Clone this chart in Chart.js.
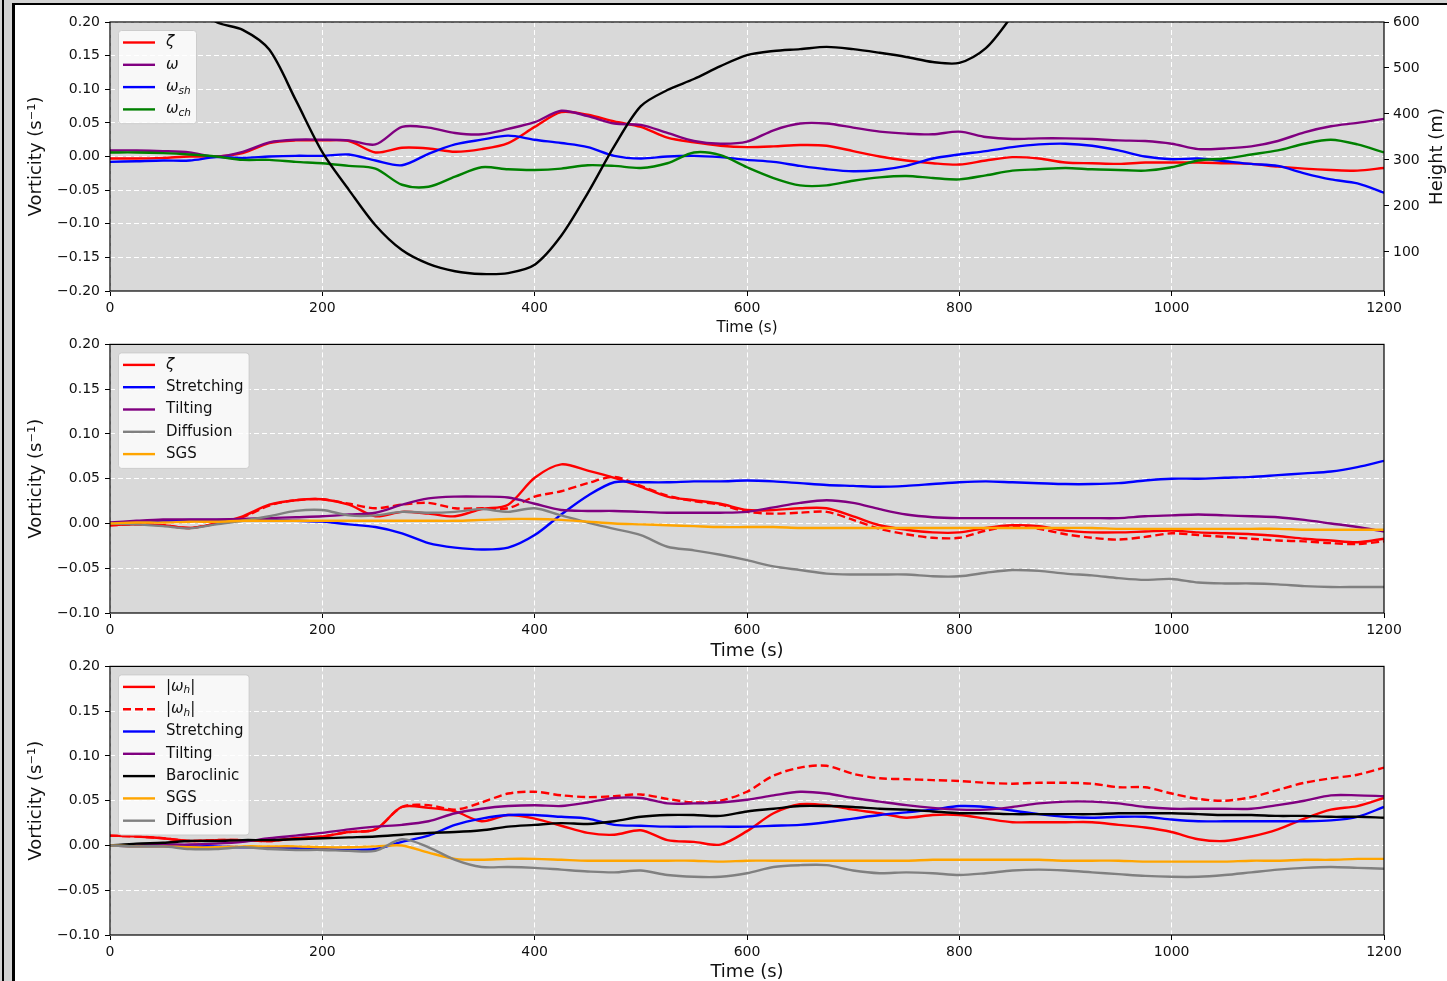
<!DOCTYPE html>
<html>
<head>
<meta charset="utf-8">
<script src="https://cdn.jsdelivr.net/npm/chart.js@4.4.0/dist/chart.umd.min.js"></script>
<style>
  html, body { margin: 0; padding: 0; }
  body { width: 1447px; height: 981px; background: #d3d3d3; position: relative; overflow: hidden; }
  #bar { position: absolute; left: 2px; top: 0; width: 2px; height: 981px; background: #000; }
  #fig { position: absolute; left: 12px; top: 3px; width: 1440px; height: 990px; background: #fff; border-left: 3px solid #000; border-top: 2px solid #000; }
  canvas { position: absolute; left: 0; }
</style>
</head>
<body>
<div id="bar"></div>
<div id="fig"></div>
<canvas id="c1" width="1447" height="340" style="top:0px"></canvas>
<canvas id="c2" width="1447" height="333" style="top:331px"></canvas>
<canvas id="c3" width="1447" height="343" style="top:653px"></canvas>
<script>
// time axis (s)
const time = [0,25,50,75,100,125,150,175,200,225,250,275,300,325,350,375,400,425,450,475,500,525,550,575,600,
  625,650,675,700,725,750,775,800,825,850,875,900,925,950,975,1000,1025,1050,1075,1100,1125,1150,1175,1200];

// tick labels
const timeTicks = [0, 200, 400, 600, 800, 1000, 1200];
const vortTicksTop = [-0.2, -0.15, -0.1, -0.05, 0, 0.05, 0.1, 0.15, 0.2];
const vortTicksLow = [-0.1, -0.05, 0, 0.05, 0.1, 0.15, 0.2];
const heightTicks = [100, 200, 300, 400, 500, 600];

// panel 1
const zeta1 = [-0.003,-0.003,-0.002,0.000,0.000,0.005,0.020,0.024,0.024,0.023,0.006,0.013,0.012,0.007,0.011,0.020,0.044,0.066,0.062,0.052,0.044,0.028,0.021,0.016,0.014,
  0.015,0.017,0.016,0.008,0.000,-0.006,-0.010,-0.012,-0.006,-0.001,-0.003,-0.009,-0.010,-0.011,-0.009,-0.009,-0.009,-0.010,-0.011,-0.015,-0.018,-0.020,-0.021,-0.017];
const omega1 = [0.009,0.009,0.008,0.006,0.000,0.007,0.021,0.025,0.025,0.024,0.018,0.044,0.043,0.035,0.033,0.041,0.051,0.068,0.060,0.049,0.047,0.035,0.023,0.019,0.022,
  0.039,0.049,0.049,0.043,0.037,0.034,0.033,0.037,0.029,0.026,0.027,0.027,0.026,0.024,0.023,0.019,0.011,0.012,0.015,0.023,0.036,0.045,0.050,0.056];
const omegaSh1 = [-0.008,-0.007,-0.006,-0.006,-0.001,-0.002,0.000,0.001,0.001,0.003,-0.006,-0.013,0.004,0.018,0.025,0.031,0.025,0.020,0.014,0.001,-0.003,0.000,0.001,-0.001,-0.005,
  -0.008,-0.014,-0.019,-0.022,-0.020,-0.014,-0.003,0.003,0.008,0.014,0.018,0.019,0.016,0.009,0.000,-0.004,-0.003,-0.007,-0.011,-0.014,-0.025,-0.034,-0.040,-0.054];
const omegaCh1 = [0.006,0.006,0.005,0.003,0.000,-0.005,-0.005,-0.008,-0.010,-0.014,-0.018,-0.042,-0.045,-0.030,-0.016,-0.019,-0.020,-0.018,-0.013,-0.014,-0.017,-0.010,0.006,0.002,-0.016,
  -0.032,-0.043,-0.043,-0.036,-0.031,-0.029,-0.032,-0.034,-0.028,-0.021,-0.019,-0.017,-0.019,-0.020,-0.021,-0.016,-0.006,-0.003,0.003,0.009,0.019,0.025,0.018,0.006];
const height1 = [780,730,690,645,600,583,540,430,317,235,158,104,74,58,52,54,72,135,228,330,417,452,476,504,528,
  537,541,546,541,533,524,513,511,543,615,700,790,null,null,null,null,null,null,null,null,null,null,null,null];

// panel 2
const zeta2 = [-0.002,-0.001,-0.002,-0.005,0.000,0.008,0.021,0.026,0.027,0.021,0.008,0.013,0.011,0.008,0.016,0.021,0.051,0.066,0.059,0.051,0.041,0.030,0.026,0.022,0.015,
  0.015,0.017,0.017,0.008,-0.002,-0.007,-0.010,-0.010,-0.005,-0.002,-0.003,-0.008,-0.010,-0.010,-0.009,-0.008,-0.010,-0.011,-0.012,-0.014,-0.017,-0.019,-0.021,-0.017];
const zeta2b = [-0.002,-0.001,-0.002,-0.005,0.000,0.007,0.020,0.026,0.027,0.022,0.017,0.021,0.023,0.017,0.017,0.017,0.030,0.036,0.045,0.052,0.042,0.031,0.025,0.021,0.013,
  0.011,0.012,0.013,0.004,-0.006,-0.012,-0.016,-0.016,-0.008,-0.003,-0.006,-0.012,-0.016,-0.018,-0.015,-0.011,-0.013,-0.015,-0.017,-0.019,-0.020,-0.022,-0.023,-0.020];
const stretch2 = [0.000,0.002,0.003,0.004,0.004,0.004,0.004,0.003,0.002,-0.001,-0.004,-0.011,-0.022,-0.027,-0.029,-0.027,-0.013,0.010,0.031,0.046,0.046,0.046,0.047,0.047,0.048,
  0.047,0.045,0.043,0.042,0.041,0.042,0.044,0.046,0.047,0.046,0.045,0.044,0.044,0.045,0.048,0.050,0.050,0.051,0.052,0.054,0.056,0.058,0.063,0.070];
const tilt2 = [0.001,0.003,0.0045,0.0045,0.0045,0.005,0.006,0.007,0.008,0.010,0.012,0.021,0.028,0.030,0.030,0.029,0.022,0.015,0.014,0.014,0.013,0.012,0.012,0.012,0.013,
  0.018,0.023,0.026,0.023,0.016,0.010,0.007,0.006,0.006,0.006,0.006,0.006,0.006,0.006,0.008,0.009,0.010,0.009,0.008,0.007,0.004,0.000,-0.004,-0.009];
const diff2 = [0.000,-0.001,-0.003,-0.0055,-0.001,0.003,0.008,0.014,0.015,0.009,0.009,0.013,0.012,0.013,0.016,0.013,0.017,0.009,0.001,-0.006,-0.013,-0.026,-0.030,-0.035,-0.041,
  -0.048,-0.052,-0.056,-0.057,-0.057,-0.057,-0.059,-0.059,-0.055,-0.052,-0.053,-0.056,-0.058,-0.061,-0.063,-0.062,-0.066,-0.067,-0.067,-0.068,-0.070,-0.071,-0.071,-0.071];
const sgs2 = [0.000,0.001,0.001,0.002,0.002,0.003,0.003,0.003,0.003,0.003,0.003,0.003,0.003,0.003,0.004,0.005,0.005,0.004,0.002,0.000,-0.001,-0.002,-0.003,-0.004,-0.004,
  -0.004,-0.005,-0.005,-0.005,-0.005,-0.005,-0.005,-0.005,-0.005,-0.005,-0.005,-0.005,-0.005,-0.006,-0.006,-0.006,-0.006,-0.006,-0.006,-0.006,-0.007,-0.007,-0.007,-0.007];

// panel 3
const omegaH3 = [0.011,0.010,0.008,0.005,0.006,0.006,0.005,0.008,0.010,0.015,0.018,0.043,0.042,0.038,0.027,0.034,0.030,0.022,0.014,0.012,0.017,0.006,0.004,0.001,0.016,
  0.036,0.046,0.045,0.040,0.036,0.031,0.034,0.034,0.030,0.026,0.026,0.026,0.026,0.023,0.020,0.015,0.007,0.005,0.010,0.018,0.030,0.040,0.044,0.053];
const omegaH3b = [0.011,0.010,0.008,0.005,0.006,0.006,0.005,0.008,0.010,0.015,0.018,0.043,0.045,0.040,0.048,0.058,0.060,0.056,0.054,0.055,0.057,0.052,0.048,0.050,0.060,
  0.078,0.087,0.089,0.080,0.075,0.074,0.073,0.072,0.070,0.069,0.070,0.070,0.069,0.065,0.065,0.058,0.052,0.050,0.054,0.062,0.070,0.075,0.079,0.087];
const stretch3 = [0.000,-0.001,-0.001,-0.001,-0.001,-0.002,-0.002,-0.003,-0.004,-0.005,-0.004,0.004,0.011,0.023,0.030,0.034,0.034,0.032,0.030,0.023,0.022,0.021,0.021,0.021,0.021,
  0.022,0.023,0.026,0.030,0.034,0.037,0.040,0.044,0.043,0.039,0.035,0.032,0.031,0.032,0.032,0.029,0.027,0.027,0.027,0.027,0.027,0.028,0.032,0.043];
const tilt3 = [0.000,0.000,0.001,0.001,0.002,0.004,0.008,0.011,0.014,0.018,0.021,0.023,0.027,0.036,0.041,0.044,0.045,0.044,0.048,0.053,0.053,0.047,0.047,0.048,0.051,
  0.056,0.060,0.058,0.053,0.049,0.045,0.042,0.040,0.040,0.043,0.047,0.049,0.049,0.047,0.043,0.041,0.041,0.041,0.041,0.045,0.050,0.056,0.056,0.055];
const baro3 = [0.000,0.002,0.003,0.005,0.005,0.006,0.006,0.007,0.008,0.009,0.010,0.012,0.014,0.015,0.017,0.021,0.023,0.025,0.024,0.027,0.032,0.034,0.034,0.033,0.038,
  0.041,0.044,0.044,0.043,0.041,0.040,0.038,0.036,0.036,0.035,0.035,0.035,0.035,0.036,0.036,0.036,0.035,0.034,0.034,0.033,0.033,0.032,0.032,0.031];
const sgs3 = [0.000,-0.001,-0.001,-0.002,-0.002,-0.001,-0.001,-0.001,-0.002,-0.002,-0.001,0.000,-0.008,-0.015,-0.016,-0.015,-0.015,-0.016,-0.017,-0.017,-0.017,-0.017,-0.017,-0.018,-0.017,
  -0.017,-0.017,-0.017,-0.017,-0.017,-0.017,-0.016,-0.016,-0.016,-0.016,-0.016,-0.017,-0.017,-0.017,-0.018,-0.018,-0.018,-0.018,-0.017,-0.017,-0.016,-0.016,-0.015,-0.015];
const diff3 = [0.000,-0.001,-0.001,-0.004,-0.004,-0.002,-0.004,-0.005,-0.005,-0.006,-0.006,0.007,-0.002,-0.016,-0.024,-0.024,-0.025,-0.027,-0.029,-0.030,-0.028,-0.033,-0.035,-0.035,-0.031,
  -0.024,-0.022,-0.022,-0.028,-0.031,-0.030,-0.031,-0.033,-0.031,-0.028,-0.027,-0.028,-0.030,-0.032,-0.034,-0.035,-0.035,-0.033,-0.030,-0.027,-0.025,-0.024,-0.025,-0.026];

Chart.defaults.font.family = 'DejaVu Sans';
Chart.defaults.color = '#111';

const FONT = 'DejaVu Sans';

function series(label, vals, color, extra) {
  return Object.assign({
    label: label,
    data: time.map((t, i) => ({ x: t, y: vals[i] })),
    borderColor: color,
    backgroundColor: color,
    borderWidth: 2.4,
    pointRadius: 0,
    tension: 0.3,
    fill: false
  }, extra || {});
}

// split a legend label into pieces: greek/latin italic in math labels, "_xx" as subscript
function richParts(label) {
  const math = /[ζω]/.test(label);
  const parts = [];
  for (let i = 0; i < label.length; i++) {
    const ch = label[i];
    if (ch === '_') {
      let j = i + 1, sub = '';
      while (j < label.length && /[a-z]/.test(label[j])) sub += label[j++];
      parts.push({ t: sub, sub: true });
      i = j - 1;
      continue;
    }
    parts.push({ t: ch, italic: math && ch !== '|' });
  }
  return parts;
}

function partFont(p, size) {
  if (p.sub) return 'italic ' + (size * 0.7) + 'px ' + FONT;
  return (p.italic ? 'italic ' : '') + size + 'px ' + FONT;
}

function richWidth(ctx, label, size) {
  let w = 0;
  richParts(label).forEach(p => { ctx.font = partFont(p, size); w += ctx.measureText(p.t).width; });
  return w;
}

function drawRich(ctx, label, x, y, size) {
  ctx.textBaseline = 'middle';
  ctx.textAlign = 'left';
  ctx.fillStyle = '#111';
  richParts(label).forEach(p => {
    ctx.font = partFont(p, size);
    ctx.fillText(p.t, x, p.sub ? y + size * 0.25 : y);
    x += ctx.measureText(p.t).width;
  });
}

// grey panel background + black frame
const panelFrame = {
  id: 'panelFrame',
  beforeDraw(chart) {
    const { ctx, chartArea: a } = chart;
    ctx.save();
    ctx.fillStyle = '#d9d9d9';
    ctx.fillRect(a.left, a.top, a.right - a.left, a.bottom - a.top);
    ctx.restore();
  },
  afterDatasetsDraw(chart) {
    const { ctx, chartArea: a } = chart;
    ctx.save();
    ctx.strokeStyle = '#000';
    ctx.lineWidth = 1.2;
    ctx.strokeRect(a.left, a.top, a.right - a.left, a.bottom - a.top);
    ctx.restore();
  }
};

// matplotlib style legend box in the upper left corner
const boxLegend = {
  id: 'boxLegend',
  afterDraw(chart) {
    const { ctx, chartArea: a } = chart;
    const items = chart.data.datasets.filter(d => !d.noLegend);
    const left = a.left + 8, top = a.top + 8, rowH = 22.3, size = 15;
    ctx.save();
    let maxW = 0;
    items.forEach(d => { maxW = Math.max(maxW, richWidth(ctx, d.label, size)); });
    const w = 48 + maxW + 5, h = items.length * rowH + 4;
    ctx.beginPath();
    ctx.roundRect(left + 0.5, top + 0.5, w, h, 3);
    ctx.fillStyle = 'rgba(255,255,255,0.8)';
    ctx.fill();
    ctx.strokeStyle = '#cccccc';
    ctx.lineWidth = 1;
    ctx.stroke();
    items.forEach((d, i) => {
      const y = top + 12.5 + i * rowH;
      ctx.strokeStyle = d.borderColor;
      ctx.lineWidth = d.borderWidth;
      ctx.setLineDash(d.borderDash || []);
      ctx.beginPath();
      ctx.moveTo(left + 5, y);
      ctx.lineTo(left + 37, y);
      ctx.stroke();
      ctx.setLineDash([]);
      drawRich(ctx, d.label, left + 48, y, size);
    });
    ctx.restore();
  }
};

// right axis label reads bottom-to-top like matplotlib
const heightTitle = {
  id: 'heightTitle',
  afterDraw(chart) {
    const { ctx, chartArea: a } = chart;
    ctx.save();
    ctx.translate(a.right + 53, (a.top + a.bottom) / 2);
    ctx.rotate(-Math.PI / 2);
    ctx.font = '18px ' + FONT;
    ctx.fillStyle = '#111';
    ctx.textAlign = 'center';
    ctx.textBaseline = 'middle';
    ctx.fillText('Height (m)', 0, 0);
    ctx.restore();
  }
};

const fmtVort = v => (v < -1e-9 ? '\u2212' : '') + Math.abs(v).toFixed(2);

function xScale(axisH, titleSize, titlePad) {
  return {
    type: 'linear', min: 0, max: 1200,
    afterBuildTicks: s => { s.ticks = timeTicks.map(v => ({ value: v })); },
    afterFit: s => { s.height = axisH; },
    ticks: { font: { size: 14 }, color: '#111', padding: 4, maxRotation: 0, autoSkip: false, callback: v => String(v) },
    grid: { color: '#ffffff', lineWidth: 1, tickColor: '#000', tickLength: 5, tickWidth: 1 },
    border: { display: false, dash: [5, 3] },
    title: { display: true, text: 'Time (s)', font: { size: titleSize }, color: '#111', padding: { top: titlePad, bottom: titlePad } }
  };
}

function yScale(min, max, ticks) {
  return {
    position: 'left', min: min, max: max,
    afterBuildTicks: s => { s.ticks = ticks.map(v => ({ value: v })); },
    afterFit: s => { s.width = 110; },
    ticks: { font: { size: 14 }, color: '#111', padding: 5, autoSkip: false, callback: fmtVort },
    grid: { color: '#ffffff', lineWidth: 1, tickColor: '#000', tickLength: 5, tickWidth: 1 },
    border: { display: false, dash: [5, 3] },
    title: { display: true, text: 'Vorticity (s\u207B\u00B9)', font: { size: 18 }, color: '#111', padding: { top: 26, bottom: 0 } }
  };
}

function withOrder(list) {
  list.forEach((d, i) => { if (d.order === undefined) d.order = 20 - i; });
  return list;
}

// Panel 1: vorticity components + height
new Chart(document.getElementById('c1'), {
  type: 'line',
  data: {
    datasets: withOrder([
      series('ζ', zeta1, '#ff0000'),
      series('ω', omega1, '#800080'),
      series('ω_sh', omegaSh1, '#0000ff'),
      series('ω_ch', omegaCh1, '#008000'),
      series('Height', height1, '#000000', { yAxisID: 'y2', noLegend: true, order: 0, spanGaps: false })
    ])
  },
  options: {
    responsive: false,
    animation: false,
    layout: { padding: { top: 22, left: 0, right: 0, bottom: 0 } },
    plugins: { legend: { display: false }, tooltip: { enabled: false } },
    scales: {
      x: xScale(49, 15, 3),
      y: yScale(-0.2, 0.2, vortTicksTop),
      y2: {
        position: 'right', min: 15, max: 600,
        afterBuildTicks: s => { s.ticks = heightTicks.map(v => ({ value: v })); },
        afterFit: s => { s.width = 63; },
        ticks: { font: { size: 14 }, color: '#111', padding: 4, autoSkip: false, callback: v => String(v) },
        grid: { drawOnChartArea: false, tickColor: '#000', tickLength: 5, tickWidth: 1 },
        border: { display: false }
      }
    }
  },
  plugins: [panelFrame, boxLegend, heightTitle]
});

// Panel 2: vertical vorticity budget
new Chart(document.getElementById('c2'), {
  type: 'line',
  data: {
    datasets: withOrder([
      series('ζ', zeta2, '#ff0000'),
      series('ζ', zeta2b, '#ff0000', { borderDash: [8, 4], noLegend: true }),
      series('Stretching', stretch2, '#0000ff'),
      series('Tilting', tilt2, '#800080'),
      series('Diffusion', diff2, '#808080'),
      series('SGS', sgs2, '#ffa500')
    ])
  },
  options: {
    responsive: false,
    animation: false,
    layout: { padding: { top: 10, left: 0, right: 63, bottom: 0 } },
    plugins: { legend: { display: false }, tooltip: { enabled: false } },
    scales: {
      x: xScale(51, 18, 2),
      y: yScale(-0.1, 0.2, vortTicksLow)
    }
  },
  plugins: [panelFrame, boxLegend]
});

// Panel 3: horizontal vorticity budget
new Chart(document.getElementById('c3'), {
  type: 'line',
  data: {
    datasets: withOrder([
      series('|ω_h|', omegaH3, '#ff0000'),
      series('|ω_h|', omegaH3b, '#ff0000', { borderDash: [8, 4] }),
      series('Stretching', stretch3, '#0000ff'),
      series('Tilting', tilt3, '#800080'),
      series('Baroclinic', baro3, '#000000'),
      series('SGS', sgs3, '#ffa500'),
      series('Diffusion', diff3, '#808080')
    ])
  },
  options: {
    responsive: false,
    animation: false,
    layout: { padding: { top: 10, left: 0, right: 63, bottom: 0 } },
    plugins: { legend: { display: false }, tooltip: { enabled: false } },
    scales: {
      x: xScale(61, 18, 13),
      y: yScale(-0.1, 0.2, vortTicksLow)
    }
  },
  plugins: [panelFrame, boxLegend]
});
</script>
</body>
</html>
